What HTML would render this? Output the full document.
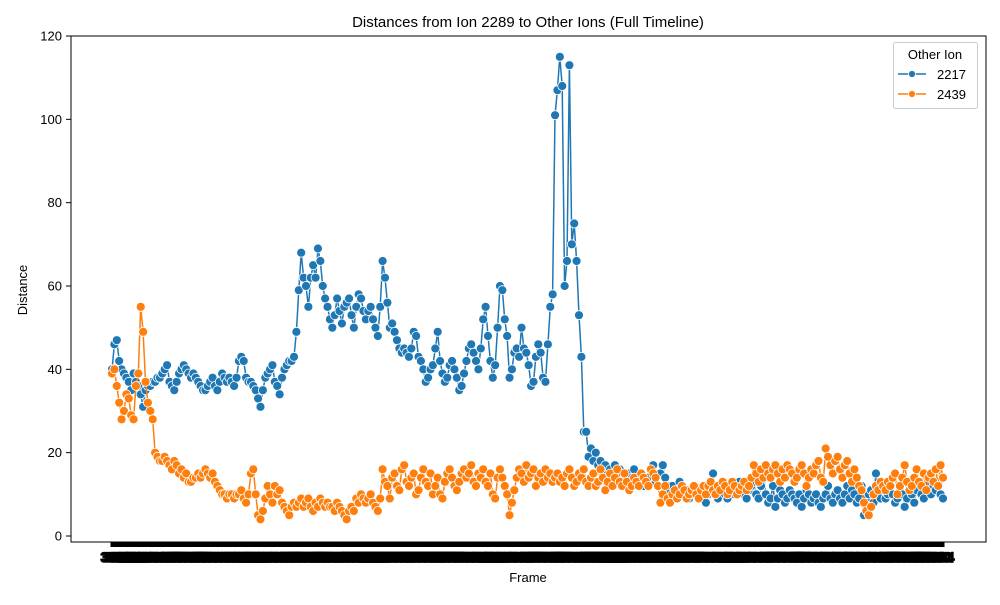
<!DOCTYPE html>
<html><head><meta charset="utf-8"><style>
body{margin:0;background:#fff;}
svg{font-family:"Liberation Sans","DejaVu Sans",sans-serif;}
</style></head><body>
<svg id="chart" width="1000" height="600" viewBox="0 0 1000 600">
<rect x="0" y="0" width="1000" height="600" fill="#fff"/>
<text x="528" y="27" font-size="15" text-anchor="middle">Distances from Ion 2289 to Other Ions (Full Timeline)</text>
<g id="yaxis"></g>
<g id="xaxis"></g>
<g id="plot"></g>
<rect x="71" y="36" width="915" height="506" fill="none" stroke="#000" stroke-width="1"/>
<text x="528" y="582" font-size="13" text-anchor="middle">Frame</text>
<text x="27" y="290" font-size="13" text-anchor="middle" transform="rotate(-90 27 290)">Distance</text>
<g>
<rect x="893.5" y="42.5" width="84" height="66" rx="2" fill="#fff" stroke="#ccc"/>
<text x="935" y="59" font-size="13" text-anchor="middle">Other Ion</text>
<g>
<line x1="898" y1="74" x2="926" y2="74" stroke="#1f77b4" stroke-width="1.5"/>
<circle cx="912" cy="74" r="3.5" fill="#1f77b4" stroke="#fff" stroke-width="0.8"/>
<text x="937" y="79" font-size="13">2217</text></g>
<g>
<line x1="898" y1="94" x2="926" y2="94" stroke="#ff7f0e" stroke-width="1.5"/>
<circle cx="912" cy="94" r="3.5" fill="#ff7f0e" stroke="#fff" stroke-width="0.8"/>
<text x="937" y="99" font-size="13">2439</text></g>
</g>
</svg>
<script>
const yTicks=[0,20,40,60,80,100,120];
const series2217=[40,46,47,42,40,39,
38,37,35,39,37,36,34,31,35,36,
36,37,37,38,38,39,40,41,37,36,35,37,39,40,41,
40,39,38,39,38,37,36,35,35,36,37,38,36,35,37,39,38,37,
38,37,36,38,42,43,42,38,37,
37,36,35,33,31,35,38,39,40,41,37,36,34,
38,40,41,42,42,43,49,59,68,
62,60,55,62,65,62,69,66,60,57,
55,52,50,53,57,54,51,55,56,57,53,50,55,58,57,54,52,
54,55,52,50,48,55,66,62,56,50,
51,49,47,45,44,45,44,43,45,49,48,43,42,40,37,38,40,41,
45,49,42,39,37,38,41,42,40,38,35,36,39,42,45,46,44,42,40,
45,52,55,48,42,38,41,50,60,59,52,48,38,40,44,45,43,50,
45,44,41,36,37,43,46,44,38,37,46,55,58,
101,107,115,108,60,66,113,70,75,66,53,43,25,
25,19,21,18,20,17,18,16,17,15,16,15,17,14,16,15,14,13,15,14,16,13,14,13,12,
13,14,16,17,13,12,15,17,14,12,11,12,10,11,13,12,10,11,9,10,12,11,10,9,11,
8,10,13,15,10,9,11,12,10,9,11,12,10,11,13,12,10,9,11,12,13,10,9,12,15,
10,8,9,12,7,9,11,10,8,9,11,10,9,8,10,7,9,11,10,8,9,10,8,7,9,
10,12,9,8,10,11,9,8,10,12,9,11,10,8,9,12,5,9,10,11,8,15,10,9,11,
9,10,12,10,8,9,11,10,7,9,12,10,8,11,13,10,9,12,11,10,12,11,13,10,9];
const series2439=[39,40,36,32,28,30,34,33,29,28,36,39,55,49,37,32,
30,28,20,19,18,18,19,18,17,16,18,17,15,16,14,
15,13,13,14,14,15,14,15,16,15,14,15,13,12,11,10,10,9,
10,10,9,10,10,11,9,8,10,
15,16,10,5,4,6,9,12,10,8,12,10,11,
8,7,6,5,7,8,7,8,9,
7,8,9,7,6,8,7,9,8,7,
8,7,7,6,8,7,6,5,4,6,7,6,9,8,10,9,8,
9,10,8,7,6,9,16,13,12,9,
14,15,12,11,16,17,13,12,14,15,10,11,14,16,13,12,15,10,
12,14,10,9,13,15,16,14,12,11,13,15,16,14,15,17,13,12,15,
14,16,13,12,15,10,9,14,16,14,12,10,5,8,11,14,16,15,
13,17,14,15,16,12,14,15,13,16,14,15,13,
14,15,13,14,12,15,16,14,12,13,15,14,16,
13,12,14,15,12,13,16,14,11,13,15,12,14,16,13,12,15,13,11,12,14,13,12,15,14,
13,12,16,15,14,12,8,10,12,9,8,10,11,9,10,12,11,9,10,11,12,10,9,11,12,
10,12,13,11,10,12,11,13,12,10,11,13,12,10,11,12,13,11,12,14,17,15,13,16,14,
17,15,14,16,17,15,13,16,14,17,16,15,13,14,16,17,15,12,14,16,15,17,18,14,13,
21,19,17,15,18,19,16,14,17,18,15,13,16,14,12,11,8,6,5,7,10,12,11,13,12,
11,13,12,14,15,10,12,14,17,13,11,12,14,16,13,12,15,11,14,15,13,16,12,17,14];
const frames=[];for(let i=0;i<series2217.length;i++)frames.push(String(300+i*2));

const NS='http://www.w3.org/2000/svg';
const X0=112,X1=943;
function xs(i){return X0+i*(X1-X0)/(frames.length-1);}
function ys(v){return 536-v*500/120;}
function mk(tag,attrs,parent){const e=document.createElementNS(NS,tag);for(const k in attrs)e.setAttribute(k,attrs[k]);parent.appendChild(e);return e;}
const ya=document.getElementById('yaxis');
yTicks.forEach(t=>{
  const l=mk('line',{x1:66,x2:71,y1:ys(t),y2:ys(t),stroke:'#000'},ya);
  
  
  const tx=mk('text',{x:62,y:ys(t)+4.5,'font-size':13,'text-anchor':'end'},ya);
  tx.textContent=t;
  
  
});
const xa=document.getElementById('xaxis');
frames.forEach((f,i)=>{
  const l=mk('line',{x1:xs(i),x2:xs(i),y1:542,y2:547,stroke:'#000','stroke-width':3},xa);
  
  
  const tx=mk('text',{x:xs(i),y:562,'font-size':14,'text-anchor':'middle',stroke:'#000','stroke-width':1.5},xa);
  tx.textContent=f;
  
  
});
const plot=document.getElementById('plot');
function drawSeries(vals,color,name){
  const g=mk('g',{},plot);
  
  
  const pts=vals.map((v,i)=>xs(i).toFixed(1)+','+ys(v).toFixed(1)).join(' ');
  const pl=mk('polyline',{points:pts,fill:'none',stroke:color,'stroke-width':1.5},g);
  
  
  vals.forEach((v,i)=>{
    const c=mk('circle',{cx:xs(i),cy:ys(v),r:4.5,fill:color,stroke:'#fff','stroke-width':0.8},g);
    
    
  });
}
drawSeries(series2217,'#1f77b4','2217');
drawSeries(series2439,'#ff7f0e','2439');
</script>
</body></html>
